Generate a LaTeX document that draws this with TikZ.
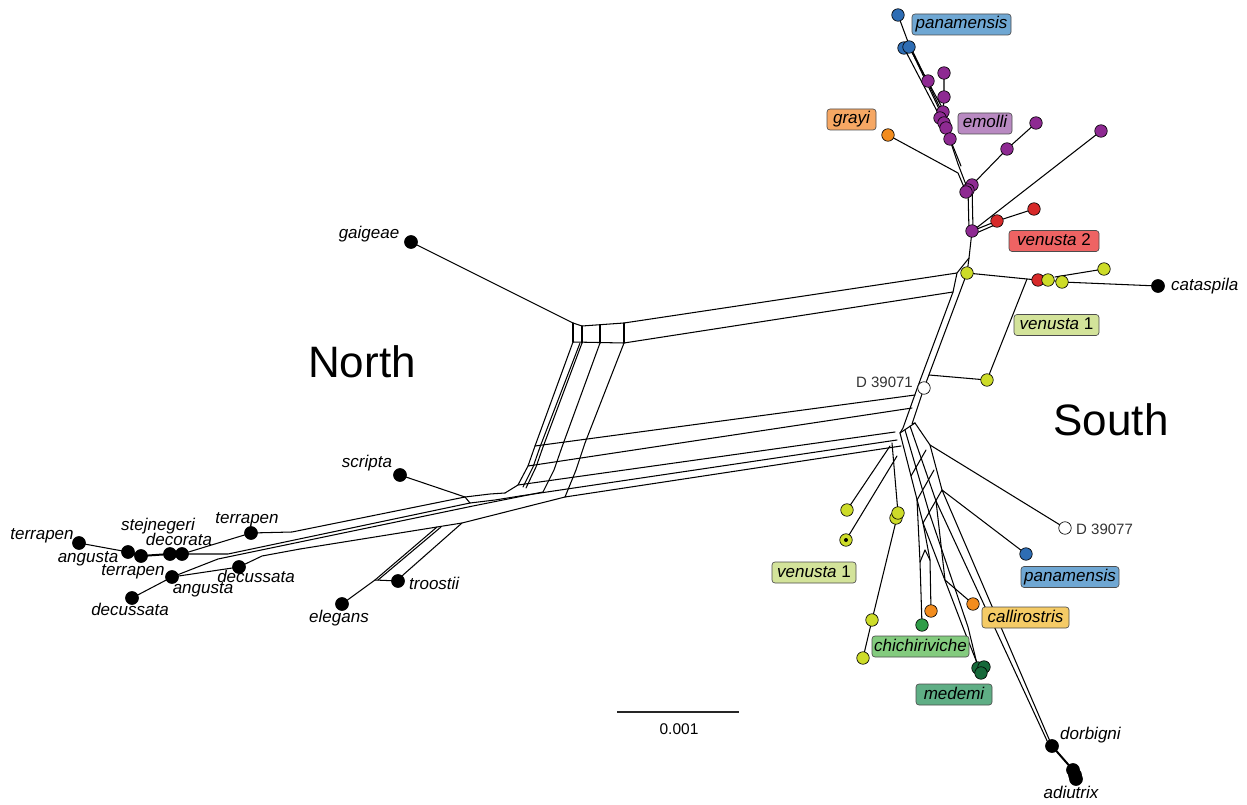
\documentclass[tikz,border=0pt]{standalone}
\usepackage{fontspec}
\setmainfont{Liberation Sans}
\definecolor{cBlue}{HTML}{2E6DB4}
\definecolor{cBlueL}{HTML}{6FA7D3}
\definecolor{cPur}{HTML}{8E2A92}
\definecolor{cPurL}{HTML}{B98AC2}
\definecolor{cOra}{HTML}{F28C1E}
\definecolor{cOraL}{HTML}{F6A763}
\definecolor{cRed}{HTML}{D72A2A}
\definecolor{cRedL}{HTML}{EE6363}
\definecolor{cYel}{HTML}{CDDC29}
\definecolor{cYelL}{HTML}{D3E39A}
\definecolor{cGold}{HTML}{F5CB66}
\definecolor{cGrn}{HTML}{2F9D48}
\definecolor{cGrnL}{HTML}{83CB7E}
\definecolor{cDkG}{HTML}{16693A}
\definecolor{cDkGL}{HTML}{5FAE85}
\begin{document}
\begin{tikzpicture}[x=1pt,y=-1pt,
  net/.style={line width=1.05pt, line join=round, line cap=round},
  thk/.style={line width=2pt, line cap=round},
  dot/.style={circle, draw=black, line width=0.65pt, minimum size=12.5pt, inner sep=0pt},
  bdot/.style={dot, fill=black, minimum size=13pt},
  lab/.style={font=\fontsize{17}{19}\selectfont\itshape, inner sep=0pt, text height=12.5pt, text depth=3.5pt},
  tag/.style={rounded corners=3pt, draw=black!70, line width=0.65pt, minimum height=21pt, inner sep=0pt, text height=12.5pt, text depth=3.5pt, font=\fontsize{17}{19}\selectfont\itshape},
  big/.style={font=\fontsize{44}{48}\selectfont, inner sep=0pt},
  dlab/.style={font=\fontsize{15}{17}\selectfont, text=black!80, inner sep=0pt, text height=11pt, text depth=0pt}]
\useasboundingbox (0,0) rectangle (1247,805);
% ---------- leaf coordinates ----------
\coordinate (pan1) at (898,15);
\coordinate (pan2) at (904,48);
\coordinate (pan3) at (909,47);
\coordinate (em1) at (928,81);
\coordinate (em2) at (944,73);
\coordinate (em3) at (944,97);
\coordinate (em4) at (943,112);
\coordinate (em5) at (940,118);
\coordinate (em6) at (944,123);
\coordinate (em7) at (946,128);
\coordinate (em8) at (950,139);
\coordinate (em9) at (1007,149);
\coordinate (em10) at (1036,123);
\coordinate (em11) at (1101,131);
\coordinate (em12) at (972,185);
\coordinate (em13) at (968,190);
\coordinate (em14) at (966,192);
\coordinate (em15) at (972,231);
\coordinate (gray) at (888,135);
\coordinate (red1) at (997,221);
\coordinate (red2) at (1034,209);
\coordinate (y1) at (967,273);
\coordinate (red3) at (1038,280);
\coordinate (y2) at (1048,280);
\coordinate (y3) at (1062,282);
\coordinate (y4) at (1104,269);
\coordinate (cat) at (1158,286);
\coordinate (y5) at (987,380);
\coordinate (D1) at (924,388);
\coordinate (D2) at (1065,528);
\coordinate (blue4) at (1026,554);
\coordinate (y6) at (847,510);
\coordinate (y7) at (846,540);
\coordinate (y8) at (898,513);
\coordinate (y9) at (896,518);
\coordinate (y10) at (872,620);
\coordinate (y11) at (863,658);
\coordinate (green) at (922,625);
\coordinate (or1) at (931,611);
\coordinate (or2) at (973,604);
\coordinate (med1) at (978,668);
\coordinate (med2) at (984,667);
\coordinate (med3) at (981,673);
\coordinate (dorb) at (1052,746);
\coordinate (adi1) at (1073,770);
\coordinate (adi2) at (1075,775);
\coordinate (adi3) at (1076,779);
\coordinate (gai) at (411,242);
\coordinate (scr) at (400,475);
\coordinate (tro) at (398,581);
\coordinate (ele) at (342,604);
\coordinate (t1) at (79,543);
\coordinate (a1) at (128,552);
\coordinate (s1) at (141,556);
\coordinate (d1) at (170,554);
\coordinate (d2) at (182,554);
\coordinate (t2) at (251,533);
\coordinate (t3) at (172,577);
\coordinate (dc1) at (239,567);
\coordinate (dc2) at (132,598);
% ---------- network: top (emolli / panamensis) ----------
\draw[net] (pan1) -- (911,50) -- (941,113);
\draw[net] (pan2) -- (938,113);
\draw[net] (pan3) -- (944,111);
\draw[net] (913,52) -- (942,112);
\draw[net] (em2) -- (em3) -- (em4);
\draw[net] (em7) -- (958,164) -- (em13);
\draw[net] (em8) -- (961,166);
\draw[net] (gray) -- (958,173) -- (em14);
\draw[net] (em13) -- (969,231);
\draw[net] (em12) -- (973,230);
\draw[net] (em12) -- (em9) -- (em10);
\draw[net] (975,229) -- (em11);
\draw[net] (em15) -- (red1) -- (red2);
\draw[net] (974,234) -- (997,224);
% ---------- trunk ----------
\draw[net] (em15) -- (969,258) -- (957,273) -- (953,292) -- (918,386) -- (903,428) -- (900,433);
\draw[net] (969,258) -- (y1) -- (D1) -- (912,424) -- (915,423);
\draw[net] (y1) -- (1027,279) -- (red3) -- (y2) -- (y3) -- (cat);
\draw[net] (1055,277) -- (y4);
\draw[net] (1027,279) -- (y5);
\draw[net] (929,375) -- (y5);
% ---------- upper band ----------
\draw[net] (gai) -- (573,323) -- (582,326) -- (624,323) -- (957,273);
\draw[net] (573,342) -- (624,343) -- (953,292);
\draw[net] (573,323) -- (573,342) (582,326) -- (582,343) (600,325) -- (600,343) (624,323) -- (624,343);
% ---------- vertical band ----------
\draw[net] (573,342) -- (535,446) -- (528,466) -- (518,485) -- (505,493);
\draw[net] (580,343) -- (540,447) -- (533,467) -- (523,487);
\draw[net] (582,343) -- (543,447) -- (536,467) -- (526,488);
\draw[net] (600,343) -- (562,447) -- (554,470) -- (543,492);
\draw[net] (624,343) -- (585,443) -- (576,470) -- (565,497);
% ---------- lower band ----------
\draw[net] (535,446) -- (915,395);
\draw[net] (528,466) -- (912,408);
\draw[net] (518,485) -- (895,432);
\draw[net] (520,496) -- (897,440);
\draw[net] (565,497) -- (901,446);
% ---------- merge area, scripta, troostii, elegans ----------
\draw[net] (scr) -- (465,497) -- (490,494) -- (505,493);
\draw[net] (465,497) -- (470,503) -- (495,500) -- (520,496);
\draw[net] (300,549) -- (437,527) -- (462,523) -- (565,497);
\draw[net] (437,527) -- (375,580) -- (ele);
\draw[net] (441,527) -- (378,580);
\draw[net] (462,523) -- (403,575) -- (tro);
\draw[net] (375,580) -- (tro);
% ---------- left fan ----------
\draw[net] (t2) -- (292,532) -- (465,497);
\draw[net] (d2) -- (228,554) -- (470,503);
\draw[net] (t3) -- (218,559) -- (473,506) -- (543,492);
\draw[net] (dc2) -- (t3) -- (dc1);
\draw[net] (dc1) -- (262,556) -- (300,549);
\draw[net] (t1) -- (a1);
\draw[thk] (a1) -- (s1) -- (d1) -- (d2);
\draw[net] (d2) -- (t2);
% ---------- right lattice ----------
\draw[net] (900,433) -- (915,423);
\draw[net] (900,433) -- (923,523);
\draw[net] (915,423) -- (930,445) -- (942,490) -- (923,523);
\draw[net] (905,430) -- (929,512);
\draw[net] (910,426) -- (936,501);
\draw[net] (926,450) -- (911,476);
\draw[net] (934,470) -- (917,500);
\draw[net] (930,445) -- (D2);
\draw[net] (942,490) -- (blue4);
\draw[net] (y6) -- (890,446);
\draw[net] (y7) -- (897,456);
\draw[net] (892,443) -- (y8) -- (y10) -- (y11);
\draw[net] (917,500) -- (920,562) -- (green);
\draw[net] (923,523) -- (930,560) -- (or1);
\draw[net] (920,562) -- (925,550) -- (930,560);
\draw[net] (936,501) -- (945,580) -- (or2);
\draw[net] (929,512) -- (968,627) -- (med1);
\draw[net] (923,523) -- (964,630) -- (med3);
\draw[net] (942,490) -- (dorb);
\draw[net] (936,501) -- (1049,745);
\draw[thk] (dorb) -- (adi1) -- (adi3);
% ---------- dots ----------
\foreach \p in {pan1,pan2,pan3,blue4} \node[dot, fill=cBlue] at (\p) {};
\foreach \p in {em1,em2,em3,em4,em5,em6,em7,em8,em9,em10,em11,em12,em13,em14,em15} \node[dot, fill=cPur] at (\p) {};
\foreach \p in {red1,red2,red3} \node[dot, fill=cRed] at (\p) {};
\foreach \p in {y1,y2,y3,y4,y5,y6,y7,y9,y8,y10,y11} \node[dot, fill=cYel] at (\p) {};
\fill (y7) circle (2pt);
\foreach \p in {gray,or1,or2} \node[dot, fill=cOra] at (\p) {};
\node[dot, fill=cGrn] at (green) {};
\foreach \p in {med1,med2,med3} \node[dot, fill=cDkG] at (\p) {};
\foreach \p in {D1,D2} \node[dot, fill=white] at (\p) {};
\foreach \p in {cat,dorb,adi1,adi2,adi3,gai,scr,tro,ele,t1,a1,s1,d1,d2,t2,t3,dc1,dc2} \node[bdot] at (\p) {};
% ---------- tags ----------
\node[tag, fill=cBlueL, minimum width=99pt] (tPan1) at (961.5,24.5) {panamensis};
\node[tag, fill=cOraL, minimum width=49pt] (tGray) at (851.5,119.5) {grayi};
\node[tag, fill=cPurL, minimum width=54pt] (tEm) at (985,123.5) {emolli};
\node[tag, fill=cRedL, minimum width=90pt] (tV2) at (1054,241) {venusta\upshape{} 2};
\node[tag, fill=cYelL, minimum width=85pt] (tV1a) at (1056.5,325) {venusta\upshape{} 1};
\node[tag, fill=cYelL, minimum width=84pt] (tV1b) at (814,572.5) {venusta\upshape{} 1};
\node[tag, fill=cBlueL, minimum width=98pt] (tPan2) at (1070,577) {panamensis};
\node[tag, fill=cGold, minimum width=87pt] (tCal) at (1025.5,617.5) {callirostris};
\node[tag, fill=cGrnL, minimum width=97pt] (tChi) at (920.5,646.5) {chichiriviche};
\node[tag, fill=cDkGL, minimum width=76pt] (tMed) at (954,694.5) {medemi};
% ---------- plain labels ----------
\node[lab] (lGai) at (369,234) {gaigeae};
\node[lab] (lScr) at (367,463) {scripta};
\node[lab, anchor=west] (lTro) at (409,585) {troostii};
\node[lab] (lEle) at (339,618) {elegans};
\node[lab, anchor=west] (lCat) at (1171,286) {cataspila};
\node[lab, anchor=west] (lDor) at (1060,735) {dorbigni};
\node[lab] (lAdi) at (1071,794) {adiutrix};
\node[lab] (lT1) at (42,535) {terrapen};
\node[lab] (lA1) at (88,558) {angusta};
\node[lab] (lSt) at (158,526) {stejnegeri};
\node[lab] (lDe) at (179,541) {decorata};
\node[lab] (lT2) at (247,519) {terrapen};
\node[lab] (lT3) at (133,571) {terrapen};
\node[lab] (lA2) at (203,589) {angusta};
\node[lab] (lDc1) at (256,578) {decussata};
\node[lab] (lDc2) at (130,611) {decussata};
\node[dlab, anchor=east] (lD1) at (913,382) {D 39071};
\node[dlab, anchor=west] (lD2) at (1076,529) {D 39077};
\node[big] (north) at (362,362) {North};
\node[big] (south) at (1111,420) {South};
% ---------- scale bar ----------
\coordinate (sbL) at (617,712);
\coordinate (sbR) at (739,712);
\draw[line width=2.5pt, black!85] (sbL) -- (sbR);
\node[font=\fontsize{15.5}{17}\selectfont, inner sep=0pt] (sbT) at (679,729) {0.001};
\end{tikzpicture}
\end{document}
